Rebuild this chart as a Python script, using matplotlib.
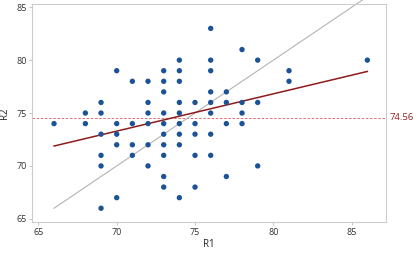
import numpy as np
import matplotlib
matplotlib.use("Agg")
import matplotlib.pyplot as plt

plt.rcParams["font.family"] = ["Open Sans", "DejaVu Sans"]

# R1 / R2 paired scores
r1 = [66, 68, 68, 69, 69, 69, 69, 69, 69, 70, 70, 70, 70, 70,
      71, 71, 71, 71, 72, 72, 72, 72, 72, 72,
      73, 73, 73, 73, 73, 73, 73, 73, 73, 73,
      74, 74, 74, 74, 74, 74, 74, 74, 74,
      75, 75, 75, 75, 75, 76, 76, 76, 76, 76, 76, 76, 76,
      77, 77, 77, 77, 78, 78, 78, 78, 79, 79, 79, 81, 81, 86]
r2 = [74, 75, 74, 76, 75, 73, 71, 70, 66, 79, 74, 73, 72, 67,
      78, 74, 72, 71, 78, 76, 75, 74, 72, 70,
      79, 78, 77, 75, 74, 73, 72, 71, 69, 68,
      80, 79, 78, 76, 75, 74, 73, 72, 67,
      76, 74, 73, 71, 68, 83, 80, 79, 77, 76, 75, 73, 71,
      77, 76, 74, 69, 81, 76, 75, 74, 80, 76, 70, 79, 78, 80]
mean_r2 = 74.56
fit_ends = [66, 71.88, 86, 78.93]  # regression line ends (x0, y0, x1, y1)

fig = plt.figure(figsize=(4.17, 2.54), dpi=100, facecolor="white")
ax = fig.add_axes([0.077, 0.126, 0.849, 0.858])

x = np.array(r1)
y = np.array(r2)

# y = x reference line (runs past the top of the frame)
ax.plot([x.min(), x.max()], [x.min(), x.max()], color="#b4b4b4", lw=0.8,
        clip_on=False, zorder=2)

# regression line
ax.plot([fit_ends[0], fit_ends[2]], [fit_ends[1], fit_ends[3]],
        color="#8e1b1b", lw=1.1, zorder=3)

# mean line
ax.axhline(mean_r2, color="#d8585a", lw=0.6, ls=(0, (3, 2)), zorder=1)
ax.text(1.01, mean_r2, f"{mean_r2:.2f}", transform=ax.get_yaxis_transform(),
        color="#8e2020", fontsize=6.8, va="center", ha="left")

ax.scatter(x, y, s=15, color="#1c5296", edgecolors="none", zorder=4)

ax.set_xlim(64.6, 87.2)
ax.set_ylim(64.7, 85.3)
ax.set_xticks([65, 70, 75, 80, 85])
ax.set_yticks([65, 70, 75, 80, 85])
ax.set_xlabel("R1", fontsize=7, color="#222222", labelpad=2)
ax.set_ylabel("R2", fontsize=7, color="#222222", labelpad=4)
ax.tick_params(labelsize=6.5, colors="#333333", length=2, width=0.6,
               color="#bbbbbb", pad=2)
for s in ax.spines.values():
    s.set_edgecolor("#cccccc")
    s.set_linewidth(0.8)

fig.savefig("out.png", dpi=100, facecolor="white")
